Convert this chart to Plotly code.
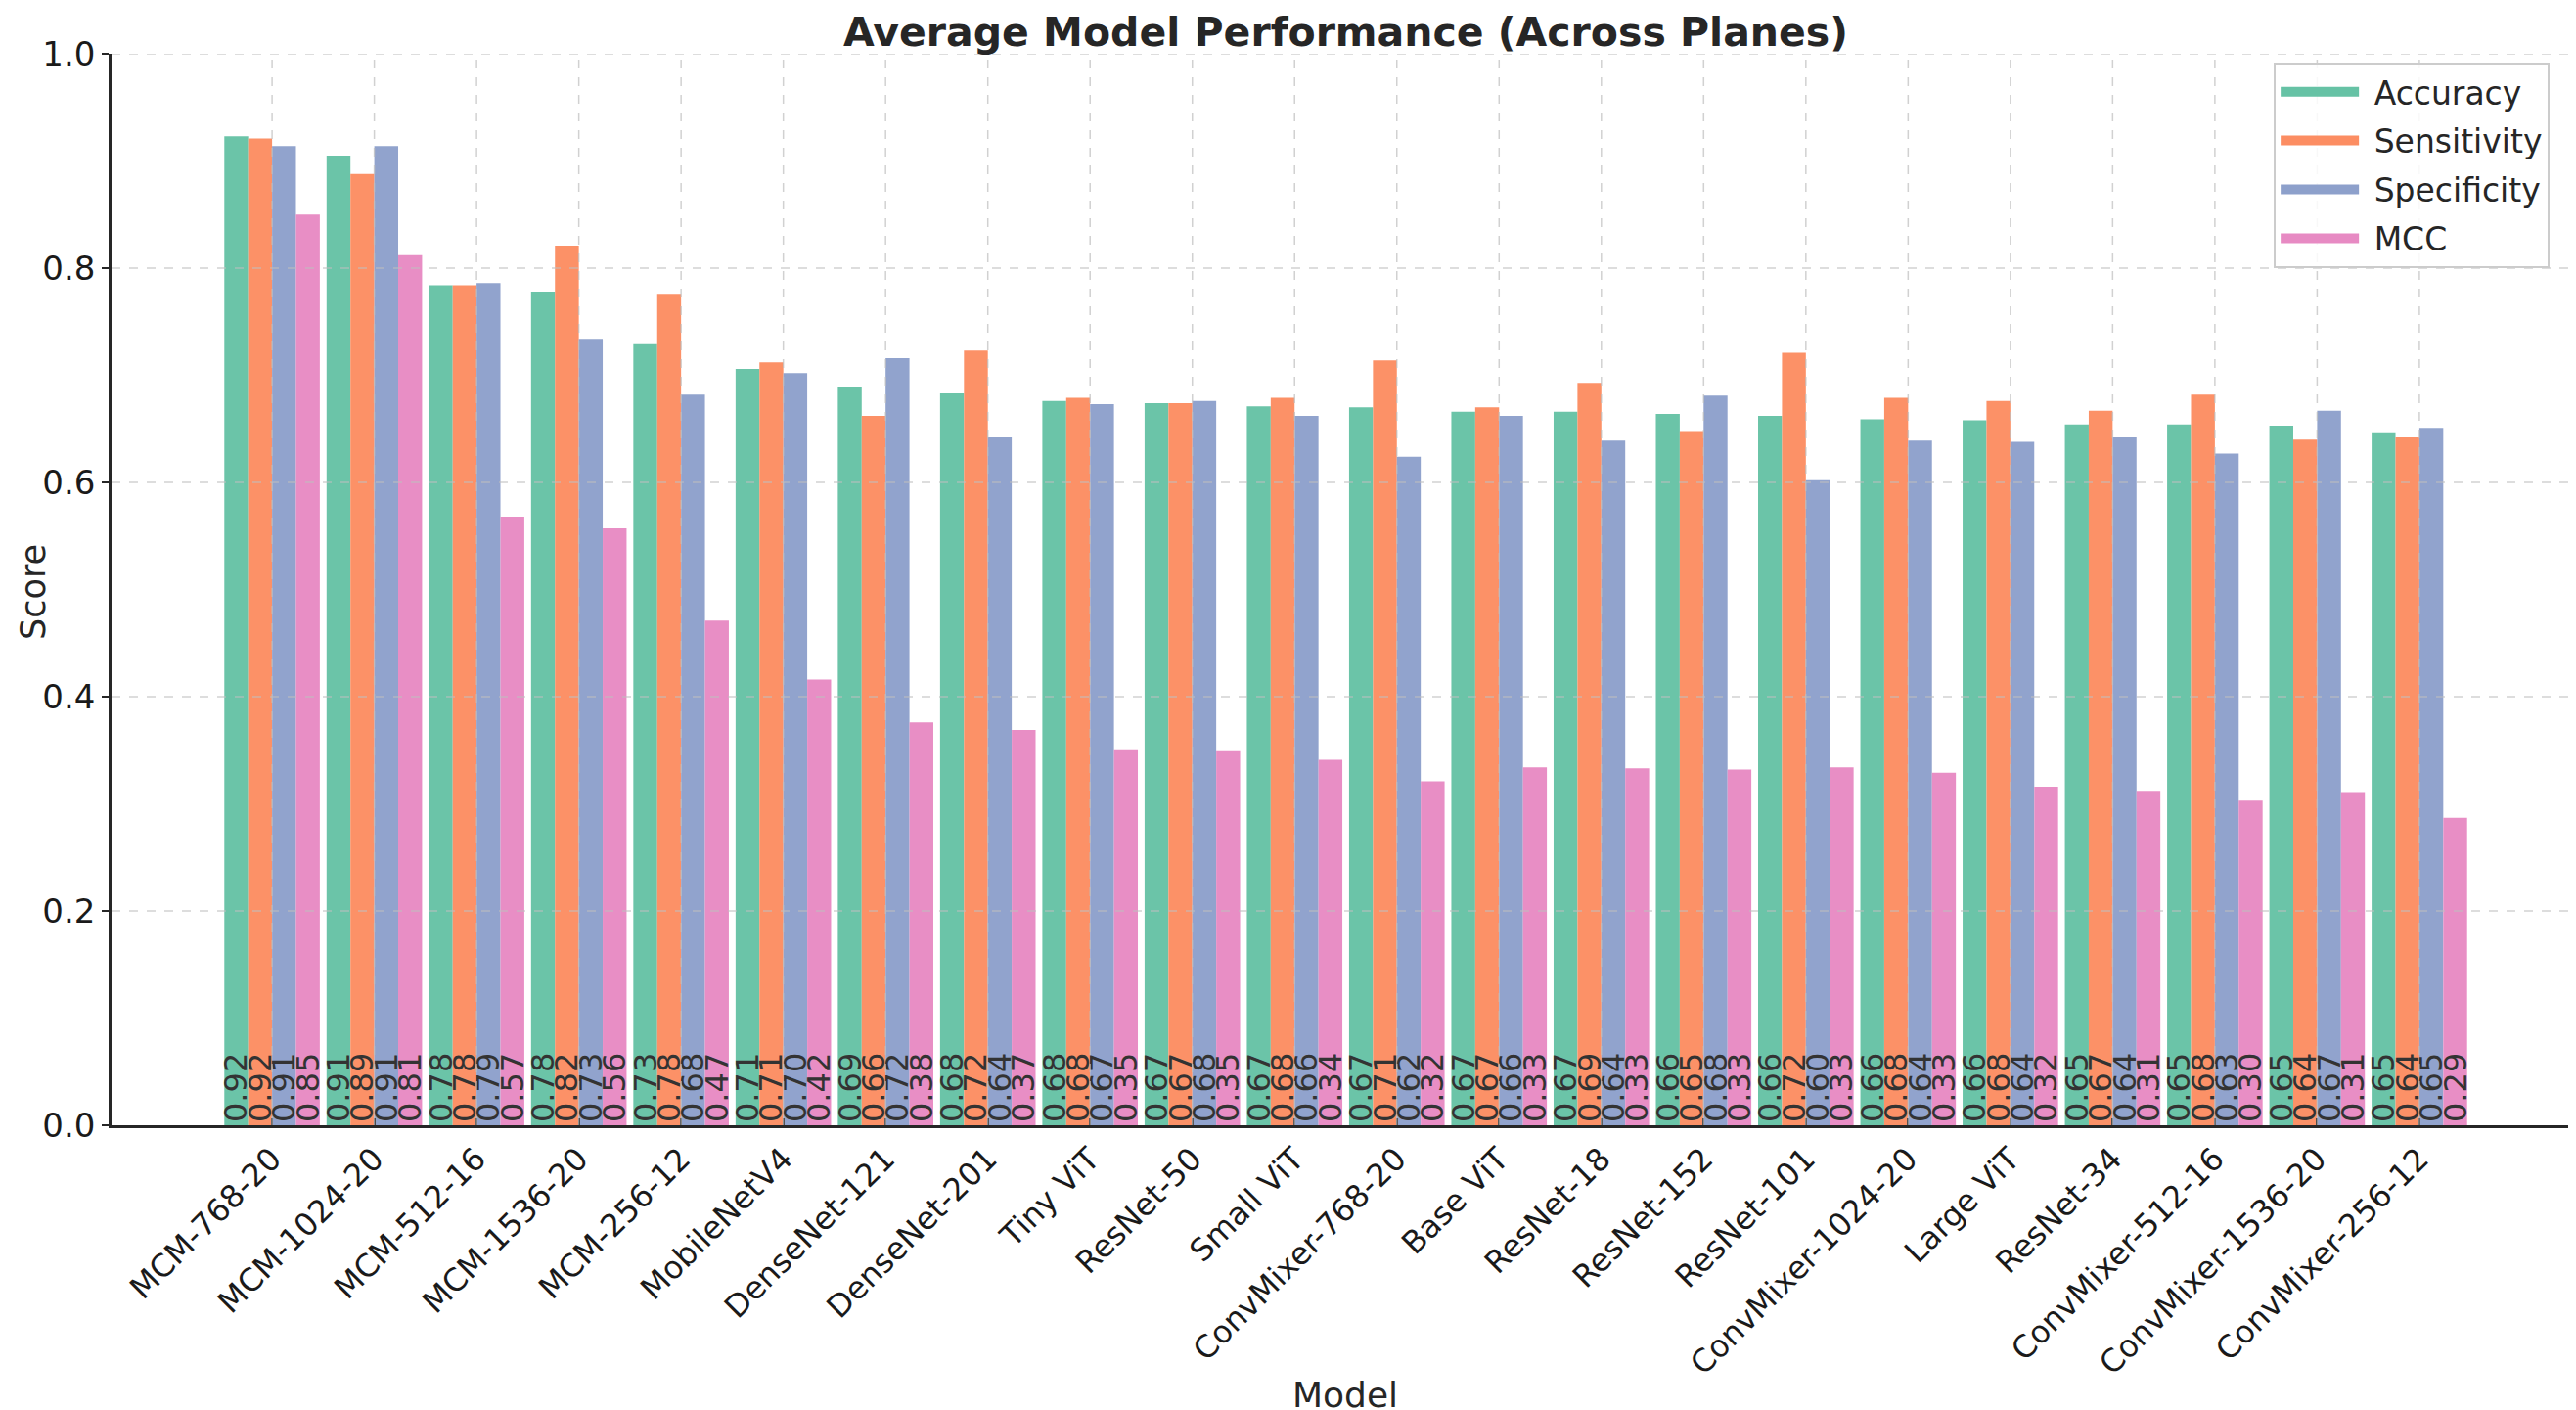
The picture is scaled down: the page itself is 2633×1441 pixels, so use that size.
import plotly.graph_objects as go

models = ["MCM-768-20", "MCM-1024-20", "MCM-512-16", "MCM-1536-20", "MCM-256-12",
          "MobileNetV4", "DenseNet-121", "DenseNet-201", "Tiny ViT", "ResNet-50",
          "Small ViT", "ConvMixer-768-20", "Base ViT", "ResNet-18", "ResNet-152",
          "ResNet-101", "ConvMixer-1024-20", "Large ViT", "ResNet-34",
          "ConvMixer-512-16", "ConvMixer-1536-20", "ConvMixer-256-12"]

accuracy = [0.923, 0.905, 0.784, 0.778, 0.729, 0.706, 0.689, 0.683, 0.676, 0.674, 0.671,
            0.670, 0.666, 0.666, 0.664, 0.662, 0.659, 0.658, 0.654, 0.654, 0.653, 0.646]
sensitivity = [0.921, 0.888, 0.784, 0.821, 0.776, 0.712, 0.662, 0.723, 0.679, 0.674, 0.679,
               0.714, 0.670, 0.693, 0.648, 0.721, 0.679, 0.676, 0.667, 0.682, 0.640, 0.642]
specificity = [0.914, 0.914, 0.786, 0.734, 0.682, 0.702, 0.716, 0.642, 0.673, 0.676, 0.662,
               0.624, 0.662, 0.639, 0.681, 0.602, 0.639, 0.638, 0.642, 0.627, 0.667, 0.651]
mcc = [0.850, 0.812, 0.568, 0.557, 0.471, 0.416, 0.376, 0.369, 0.351, 0.349, 0.341,
       0.321, 0.334, 0.333, 0.332, 0.334, 0.329, 0.316, 0.312, 0.303, 0.311, 0.287]

series_names = ["Accuracy", "Sensitivity", "Specificity", "MCC"]
series_values = [accuracy, sensitivity, specificity, mcc]
colors = ["#66c2a5", "#fc8d62", "#8da0cb", "#e78ac3"]
y_ticks = [0.0, 0.2, 0.4, 0.6, 0.8, 1.0]

FONT = "DejaVu Sans"
TXT = "#262626"

fig = go.Figure()
for name, vals, col in zip(series_names, series_values, colors):
    fig.add_trace(go.Bar(
        x=models, y=vals, name=name, showlegend=False,
        marker=dict(color=col, opacity=0.97, line=dict(width=0)),
        texttemplate="%{y:.2f}", textposition="inside", insidetextanchor="start",
        textangle=-90, constraintext="none",
        textfont=dict(family=FONT, size=32, color="#333333"),
        hoverinfo="skip",
    ))

# legend-only entries (wide rectangular swatches)
for i, (name, col) in enumerate(zip(series_names, colors)):
    fig.add_trace(go.Scatter(
        x=[None], y=[None], mode="lines", name="&nbsp;" + name, legendgroup=f"g{i}",
        line=dict(color=col, width=23), showlegend=True,
    ))

grid_line = dict(color="rgba(190,190,190,0.7)", width=1.5, dash="dash")
shapes = []
for t in y_ticks[1:]:
    shapes.append(dict(type="line", xref="paper", yref="y", x0=0, x1=1, y0=t, y1=t,
                       line=grid_line, layer="above"))
for m in models:
    shapes.append(dict(type="line", xref="x", yref="y", x0=m, x1=m, y0=0, y1=1,
                       line=grid_line, layer="above"))

fig.update_layout(
    width=2633, height=1441,
    margin=dict(l=106, r=4, t=47, b=299),
    paper_bgcolor="white", plot_bgcolor="white",
    barmode="group", bargap=0.066, bargroupgap=0,
    font=dict(family=FONT, color=TXT),
    title=dict(text="Average Model Performance (Across Planes)", x=0.5, xref="paper",
               xanchor="center", y=1 - 25 / 1441, yref="container", yanchor="middle",
               font=dict(family=FONT, size=41, color=TXT, weight="bold")),
    shapes=shapes,
    legend=dict(x=0.876, y=0.992, xanchor="left", yanchor="top",
                bgcolor="rgba(255,255,255,0.85)", bordercolor="#cccccc", borderwidth=2,
                font=dict(family=FONT, size=33, color=TXT), itemwidth=80,
                tracegroupgap=4, itemclick=False),
    annotations=[
        dict(text="Score", xref="paper", yref="paper", x=-0.032, y=0.498,
             textangle=-90, showarrow=False, xanchor="center", yanchor="middle",
             font=dict(family=FONT, size=35, color=TXT)),
        dict(text="Model", xref="paper", yref="paper", x=0.4998, y=-0.252,
             showarrow=False, xanchor="center", yanchor="middle",
             font=dict(family=FONT, size=36, color=TXT)),
    ],
)

fig.update_xaxes(
    type="category", range=[-1.57, 22.57], showgrid=False,
    showline=True, linecolor="#262626", linewidth=2.5,
    ticks="inside", ticklen=7, tickwidth=2, tickcolor="#262626",
    tickangle=-45, tickfont=dict(family=FONT, size=32, color="#1a1a1a"),
    automargin=False, zeroline=False,
)
fig.update_yaxes(
    range=[0, 1.0], tickvals=y_ticks, ticktext=[f"{v:.1f}" for v in y_ticks],
    showgrid=False, showline=True, linecolor="#262626", linewidth=2.5,
    ticks="outside", ticklen=7, tickwidth=2, tickcolor="#262626",
    tickfont=dict(family=FONT, size=34, color="#1a1a1a"),
    automargin=False, zeroline=False,
)

fig.write_html("out.html")
